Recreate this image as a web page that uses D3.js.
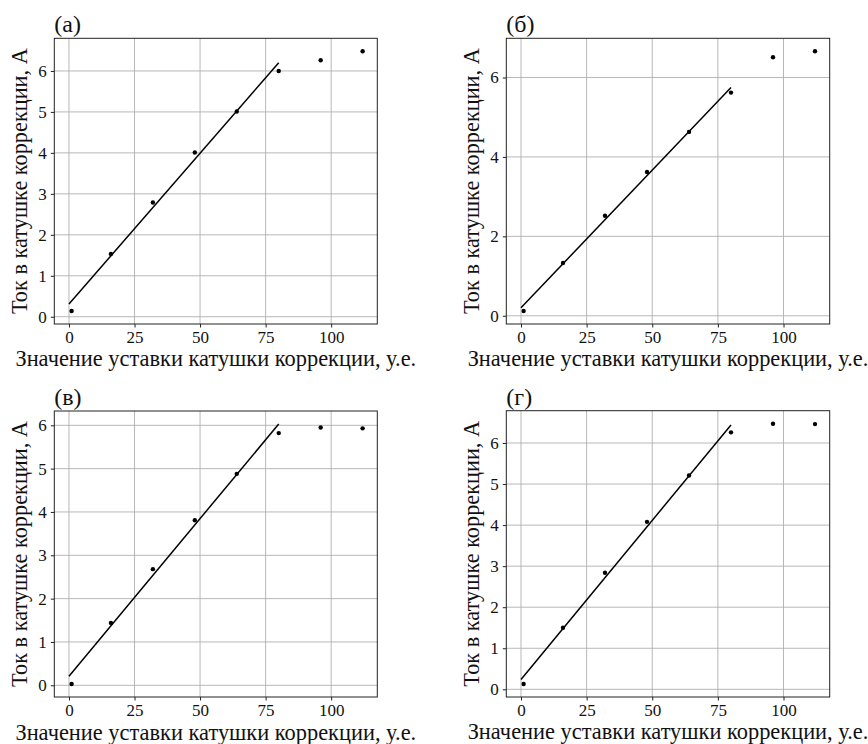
<!DOCTYPE html>
<html>
<head>
<meta charset="utf-8">
<script src="https://cdn.jsdelivr.net/npm/d3@7"></script>
<style>
  body { margin: 0; background: #fff; }
</style>
</head>
<body>
<div id="chart"></div>
<script>
// setpoint values (x) shared by all four panels
const setpoints = [1, 16, 32, 48, 64, 80, 96, 112];

// measured currents, A
const currentA = [0.14, 1.53, 2.79, 4.01, 5.01, 6.00, 6.26, 6.48];
const currentB = [0.12, 1.33, 2.52, 3.62, 4.63, 5.62, 6.51, 6.66];
const currentV = [0.03, 1.44, 2.68, 3.81, 4.88, 5.82, 5.95, 5.93];
const currentG = [0.13, 1.50, 2.84, 4.08, 5.21, 6.26, 6.47, 6.46];

// linear fit endpoints
const fitX = [0, 80];
const fitA = [0.31, 6.20];
const fitB = [0.20, 5.75];
const fitV = [0.21, 6.03];
const fitG = [0.24, 6.44];

// tick labels
const xTicks = [0, 25, 50, 75, 100];
const yTicksOne = [0, 1, 2, 3, 4, 5, 6];
const yTicksTwo = [0, 2, 4, 6];

const panelNames = ["(а)", "(б)", "(в)", "(г)"];
const xLabel = "Значение уставки катушки коррекции, у.е.";
const yLabel = "Ток в катушке коррекции, А";

const FONT = '"Liberation Serif"';

const W = 868, H = 744;
const svg = d3.select("#chart").append("svg")
  .attr("width", W).attr("height", H);

// plot boxes for each panel
const boxes = [
  {x: 54.3, y: 38.3, w: 323, h: 285.7},
  {x: 506.3, y: 38.3, w: 323.4, h: 285.7},
  {x: 54.3, y: 411, w: 323, h: 286},
  {x: 506.3, y: 410.7, w: 323.4, h: 286.3}
];

const panels = [
  {name: panelNames[0], ys: currentA, fit: fitA, yTicks: yTicksOne},
  {name: panelNames[1], ys: currentB, fit: fitB, yTicks: yTicksTwo},
  {name: panelNames[2], ys: currentV, fit: fitV, yTicks: yTicksOne},
  {name: panelNames[3], ys: currentG, fit: fitG, yTicks: yTicksOne}
];

function pad(ext) {
  const r = ext[1] - ext[0];
  return [ext[0] - 0.05 * r, ext[1] + 0.05 * r];
}

// size a label so it spans the given length
function fitText(sel, len) {
  sel.style("font-size", "20px");
  const w = sel.node().getComputedTextLength();
  sel.style("font-size", (20 * len / w).toFixed(2) + "px");
}

panels.forEach((p, i) => {
  const b = boxes[i];
  const g = svg.append("g").attr("transform", `translate(${b.x},${b.y})`);

  const x = d3.scaleLinear()
    .domain(pad([fitX[0], d3.max(setpoints)]))
    .range([0, b.w]);
  const y = d3.scaleLinear()
    .domain(pad(d3.extent(p.ys.concat(p.fit))))
    .range([b.h, 0]);

  // grid
  g.append("g").selectAll("line").data(xTicks).join("line")
    .attr("x1", d => x(d)).attr("x2", d => x(d))
    .attr("y1", 0).attr("y2", b.h)
    .attr("stroke", "#b0b0b0").attr("stroke-width", 0.9);
  g.append("g").selectAll("line").data(p.yTicks).join("line")
    .attr("y1", d => y(d)).attr("y2", d => y(d))
    .attr("x1", 0).attr("x2", b.w)
    .attr("stroke", "#b0b0b0").attr("stroke-width", 0.9);

  // axes
  const ax = g.append("g").attr("transform", `translate(0,${b.h})`)
    .call(d3.axisBottom(x).tickValues(xTicks).tickFormat(d3.format("d"))
      .tickSize(3.5).tickPadding(3));
  const ay = g.append("g")
    .call(d3.axisLeft(y).tickValues(p.yTicks).tickFormat(d3.format("d"))
      .tickSize(3.5).tickPadding(4));
  [ax, ay].forEach(a => {
    a.attr("font-family", null).attr("font-size", null);
    a.select(".domain").remove();
    a.selectAll("line").attr("stroke", "#222");
    a.selectAll("text").attr("fill", "#111")
      .style("font-family", FONT).style("font-size", "17px");
  });

  // frame
  g.append("rect").attr("width", b.w).attr("height", b.h)
    .attr("fill", "none").attr("stroke", "#222").attr("stroke-width", 1);

  // fit line
  g.append("line")
    .attr("x1", x(fitX[0])).attr("y1", y(p.fit[0]))
    .attr("x2", x(fitX[1])).attr("y2", y(p.fit[1]))
    .attr("stroke", "#000").attr("stroke-width", 1.5);

  // points
  g.append("g").selectAll("circle").data(setpoints).join("circle")
    .attr("cx", d => x(d)).attr("cy", (d, j) => y(p.ys[j]))
    .attr("r", 2.2).attr("fill", "#000");

  // panel label
  g.append("text").attr("x", 0).attr("y", -6)
    .attr("fill", "#111")
    .style("font-family", FONT).style("font-size", "24px").text(p.name);

  // axis labels
  const xl = g.append("text")
    .attr("x", b.w / 2).attr("y", b.h + 42.5)
    .attr("text-anchor", "middle").attr("fill", "#111")
    .style("font-family", FONT).text(xLabel);
  fitText(xl, 401);
  const yl = g.append("text")
    .attr("transform", `translate(-27.5,${b.h / 2}) rotate(-90)`)
    .attr("text-anchor", "middle").attr("fill", "#111")
    .style("font-family", FONT).text(yLabel);
  fitText(yl, 266);
});
</script>
</body>
</html>
